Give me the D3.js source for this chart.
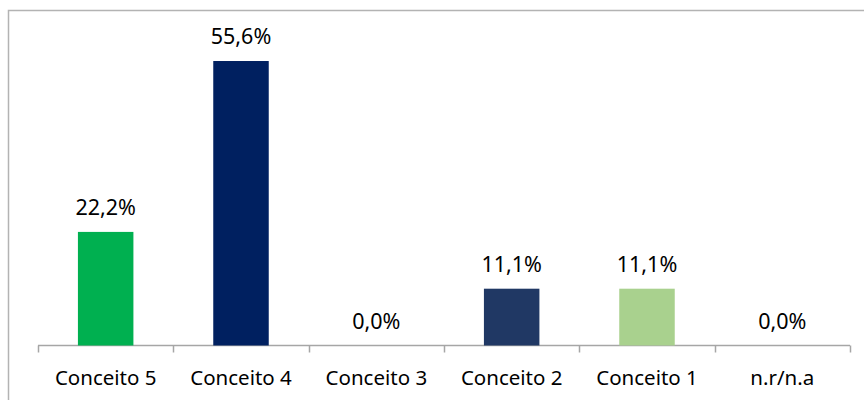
<html>
<head>
  <script src="https://d3js.org/d3.v7.min.js"></script>
  <style>
    body { margin: 0; background: #fff; }
    text { font-family: "Noto Sans", "Liberation Sans", sans-serif; fill: #000; }
  </style>
</head>
<body>
  <svg id="chart" width="864" height="400"></svg>
  <script>
    const categories = ["Conceito 5", "Conceito 4", "Conceito 3", "Conceito 2", "Conceito 1", "n.r/n.a"];
    const values = [22.2, 55.6, 0.0, 11.1, 11.1, 0.0];
    const colors = ["#00B050", "#002060", "#002060", "#203864", "#A9D18E", "#A9D18E"];

    let svg = d3.select("#chart");

    // frame round the chart
    svg.append("rect")
      .attr("x", 8.5).attr("y", 10.5)
      .attr("width", 870).attr("height", 400)
      .attr("fill", "none").attr("stroke", "#b3b3b3").attr("stroke-width", 1.5);

    const xScale = d3.scaleBand().domain(categories).range([38, 850]).paddingInner(0.59).paddingOuter(0.295);
    const yScale = d3.scaleLinear().domain([0, 60]).range([345.5, 38.5]);

    // axis line with ticks between categories
    let axis = svg.append("g");
    axis.append("line")
      .attr("x1", 38).attr("x2", 850)
      .attr("y1", 345.5).attr("y2", 345.5)
      .attr("stroke", "#a6a6a6").attr("stroke-width", 1.5);
    let step = (850 - 38) / categories.length;
    d3.range(categories.length + 1).forEach(i => {
      let x = Math.round(38 + i * step) + 0.5;
      axis.append("line")
        .attr("x1", x).attr("x2", x)
        .attr("y1", 345.5).attr("y2", 352.5)
        .attr("stroke", "#a6a6a6").attr("stroke-width", 1.5);
    });

    svg.selectAll(".bar")
      .data(values)
      .join("rect")
      .attr("class", "bar")
      .attr("x", (d, i) => xScale(categories[i]))
      .attr("width", xScale.bandwidth())
      .attr("y", d => yScale(d))
      .attr("height", d => yScale(0) - yScale(d))
      .attr("fill", (d, i) => colors[i]);

    svg.selectAll(".val")
      .data(values)
      .join("text")
      .attr("class", "val")
      .attr("x", (d, i) => xScale(categories[i]) + xScale.bandwidth() / 2)
      .attr("y", d => yScale(d) - 17)
      .attr("text-anchor", "middle")
      .attr("font-size", 21.5)
      .text(d => d.toFixed(1).replace(".", ",") + "%");

    svg.selectAll(".cat")
      .data(categories)
      .join("text")
      .attr("class", "cat")
      .attr("x", d => xScale(d) + xScale.bandwidth() / 2)
      .attr("y", 385)
      .attr("text-anchor", "middle")
      .attr("font-size", 20.5)
      .text(d => d);
  </script>
</body>
</html>
